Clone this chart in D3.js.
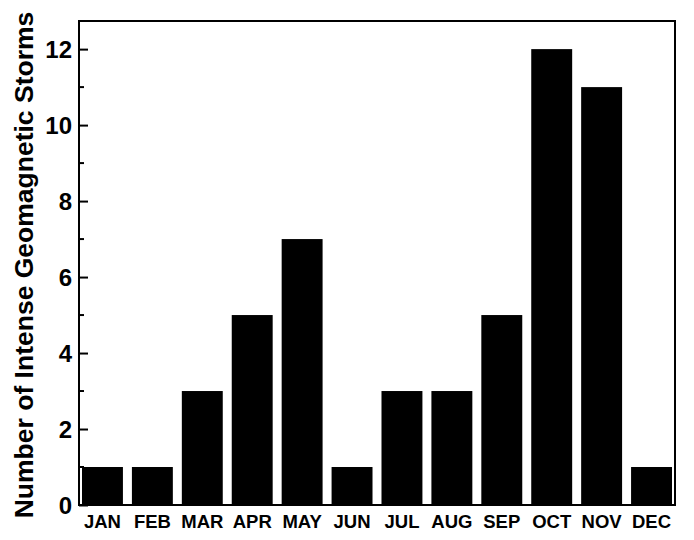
<!DOCTYPE html>
<html><head><meta charset="utf-8">
<script src="https://cdn.jsdelivr.net/npm/d3@7"></script>
<style>body{margin:0;background:#fff}svg{display:block}text{font-family:"Liberation Sans",Arial,sans-serif;font-weight:bold}</style>
</head><body><svg id="c" width="694" height="540"></svg>
<script>
const months = ["JAN","FEB","MAR","APR","MAY","JUN","JUL","AUG","SEP","OCT","NOV","DEC"];
const storms = [1,1,3,5,7,1,3,3,5,12,11,1];
const yTicks = [0,2,4,6,8,10,12];
const yMinor = [1,3,5,7,9,11];

const svg = d3.select("#c");
const L=79, R=675, T=21, B=505;
const x = d3.scaleBand().domain(months).range([L,R]).paddingInner(0.18).paddingOuter(0.06);
const y = d3.scaleLinear().domain([0,12.74]).range([B,T]);

svg.selectAll("rect.bar").data(storms).join("rect").attr("class","bar")
  .attr("x",(d,i)=>x(months[i])).attr("width",x.bandwidth())
  .attr("y",d=>y(d)).attr("height",d=>B-y(d)).attr("fill","#000");

svg.append("rect").attr("x",L).attr("y",T).attr("width",R-L).attr("height",B-T)
  .attr("fill","none").attr("stroke","#000").attr("stroke-width",2);

const ya = svg.append("g").attr("transform",`translate(${L},0)`)
  .call(d3.axisLeft(y).tickValues(yTicks).tickFormat(d3.format("d")).tickSize(-9));
ya.select(".domain").remove();
ya.selectAll(".tick line").attr("stroke-width",2).attr("x2",9);
ya.selectAll("text").attr("font-size",24).attr("fill","#000").attr("font-family","Liberation Sans").attr("font-weight","bold").attr("dy","0.36em").attr("x",-7);

svg.append("g").selectAll("line").data(yMinor).join("line")
  .attr("x1",L).attr("x2",L+5).attr("y1",d=>y(d)).attr("y2",d=>y(d)).attr("stroke","#000").attr("stroke-width",2);

const xa = svg.append("g").attr("transform",`translate(0,${B})`)
  .call(d3.axisBottom(x).tickSize(0).tickPadding(10));
xa.select(".domain").remove();
xa.selectAll("text").attr("font-size",18.5).attr("fill","#000").attr("font-family","Liberation Sans").attr("font-weight","bold");

svg.append("text").attr("transform",`translate(33,${265}) rotate(-90)`)
  .attr("text-anchor","middle").attr("font-size",26.5).attr("fill","#000")
  .text("Number of Intense Geomagnetic Storms");
</script></body></html>
